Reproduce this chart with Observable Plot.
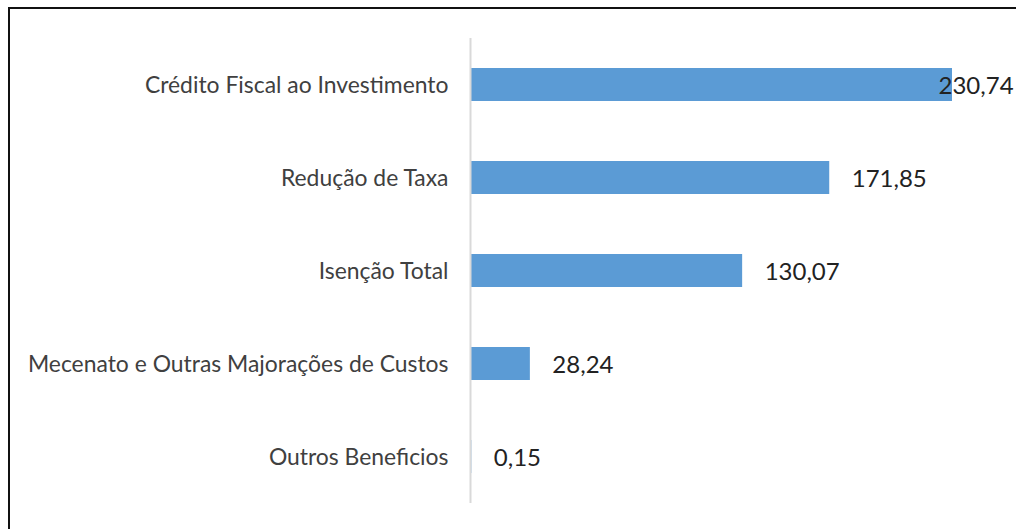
<!DOCTYPE html>
<html>
<head>
<meta charset="utf-8">
<script src="https://cdn.jsdelivr.net/npm/d3@7"></script>
<script src="https://cdn.jsdelivr.net/npm/@observablehq/plot@0.6"></script>
<style>
  html, body { margin: 0; padding: 0; background: #fff; overflow: hidden; }
  #wrap { position: relative; width: 1016px; height: 529px; overflow: hidden; }
  #frame { position: absolute; left: 8px; top: 7px; width: 1100px; height: 600px; border: 2px solid #111; box-sizing: border-box; }
  #chart { position: absolute; left: 0; top: 0; }
</style>
</head>
<body>
<div id="wrap"><div id="frame"></div><div id="chart"></div></div>
<script>
const categories = ["Crédito Fiscal ao Investimento", "Redução de Taxa", "Isenção Total", "Mecenato e Outras Majorações de Custos", "Outros Beneficios"];
const values = [230.74, 171.85, 130.07, 28.24, 0.15];

const data = categories.map((c, i) => ({category: c, value: values[i]}));
const fmt = v => d3.format(".2f")(v).replace(".", ",");
const maxV = d3.max(values);

const chart = Plot.plot({
  width: 1016,
  height: 529,
  marginLeft: 471,
  marginRight: 64,
  marginTop: 38,
  marginBottom: 26,
  style: {fontFamily: "Lato, sans-serif", background: "transparent"},
  x: {domain: [0, maxV], axis: null},
  y: {domain: categories, paddingInner: 0.645, paddingOuter: 0.3225, label: null},
  marks: [
    Plot.barX(data, {x: "value", y: "category", fill: "#5B9BD5"}),
    Plot.ruleX([0], {stroke: "#d9d9d9", strokeWidth: 2, dx: -1}),
    Plot.axisY({tickSize: 0, tickPadding: 23, fontSize: 22.9, dy: 1, fill: "#404040", label: null}),
    Plot.text(data.filter(d => d.value < maxV), {x: "value", y: "category", text: d => fmt(d.value), textAnchor: "start", dx: 22, dy: 1, fontSize: 24, fill: "#222"}),
    Plot.text(data.filter(d => d.value === maxV), {x: "value", y: "category", text: d => fmt(d.value), textAnchor: "start", dx: -14, dy: 1, fontSize: 24, fill: "#222"})
  ]
});
document.getElementById("chart").appendChild(chart);
</script>
</body>
</html>
